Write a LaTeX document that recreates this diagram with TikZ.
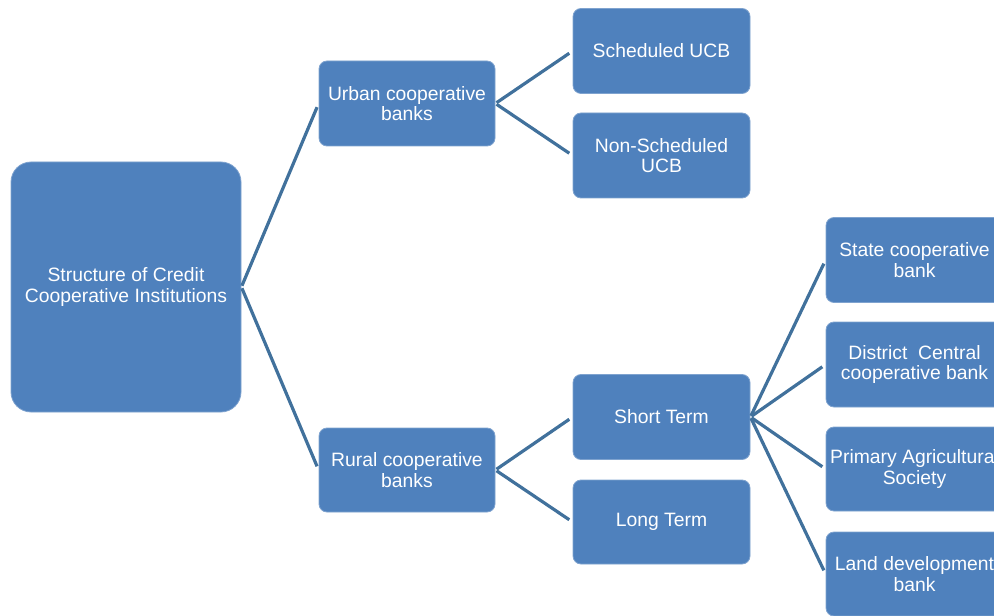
\documentclass[tikz,border=0pt]{standalone}
\usepackage{fontspec}
\setmainfont{Liberation Sans}
\definecolor{boxblue}{HTML}{4F81BD}
\definecolor{lineblue}{HTML}{41719C}
\definecolor{boxedge}{HTML}{7FA3CF}
\begin{document}
\begin{tikzpicture}[x=0.75pt,y=-0.75pt,
  cbox/.style={draw=boxedge,line width=0.6pt,fill=boxblue,rounded corners=6pt,
    text=white,align=center,inner sep=0pt,minimum width=132.75pt,minimum height=63.75pt,
    font=\fontsize{14.5}{15.5}\selectfont},
  rootbox/.style={cbox,rounded corners=15pt,minimum width=172.5pt,minimum height=187.5pt},
  conn/.style={draw=lineblue,line width=2.4pt,shorten >=3pt,shorten <=1pt}]
\useasboundingbox (0,0) rectangle (994,616);
\clip (0,0) rectangle (994,616);
\node[rootbox] (root) at (126,287) {Structure of Credit\\Cooperative Institutions};
\node[cbox,minimum width=132pt] (urban) at (407,103.5) {Urban cooperative\\banks};
\node[cbox,minimum width=132pt,minimum height=63pt] (rural) at (407,470) {Rural cooperative\\banks};
\node[cbox] (sched) at (661.5,51) {Scheduled UCB};
\node[cbox] (nonsched) at (661.5,155.5) {Non-Scheduled\\UCB};
\node[cbox] (short) at (661.5,417) {Short Term};
\node[cbox,minimum height=63pt] (long) at (661.5,522) {Long Term};
\node[cbox] (state) at (914.5,260) {State cooperative\\bank};
\node[cbox] (district) at (914.5,364.5) {District\ \ Central\\cooperative bank};
\node[cbox,minimum height=63pt] (primary) at (914.5,469) {Primary Agricultural\\Society};
\node[cbox,minimum height=63pt] (land) at (914.5,574) {Land development\\bank};
\draw[conn] (root.east) -- (urban.west);
\draw[conn] (root.east) -- (rural.west);
\draw[conn] (urban.east) -- (sched.west);
\draw[conn] (urban.east) -- (nonsched.west);
\draw[conn] (rural.east) -- (short.west);
\draw[conn] (rural.east) -- (long.west);
\draw[conn] (short.east) -- (state.west);
\draw[conn] (short.east) -- (district.west);
\draw[conn] (short.east) -- (primary.west);
\draw[conn] (short.east) -- (land.west);
\end{tikzpicture}
\end{document}
